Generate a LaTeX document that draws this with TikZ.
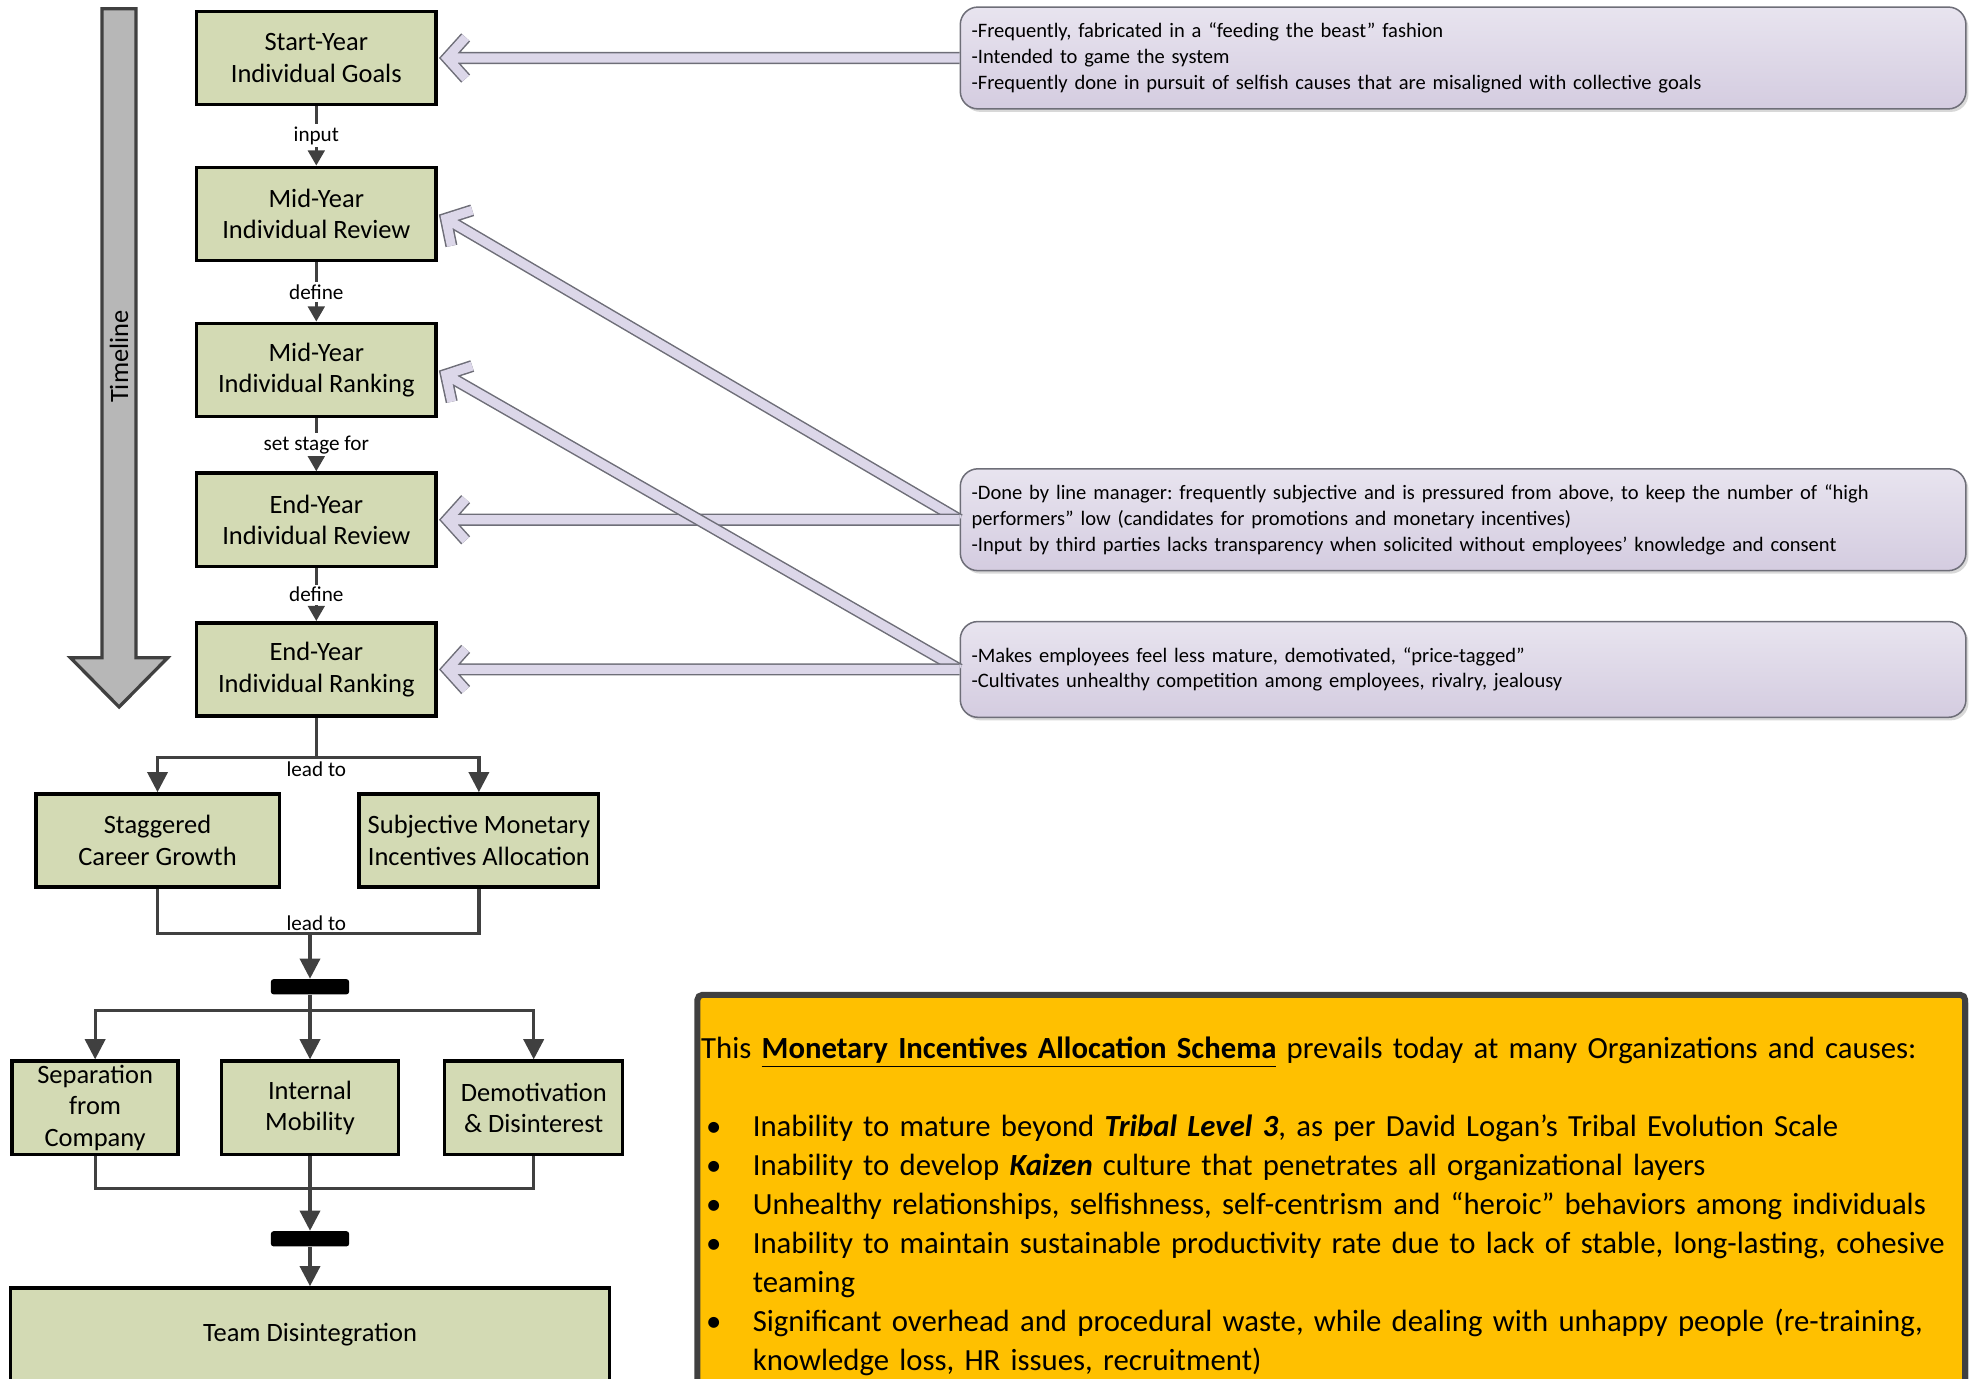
\documentclass[tikz,border=0pt]{standalone}
\usepackage{fontspec}
\setmainfont{Carlito}
\usepackage{tikz}
\usetikzlibrary{arrows.meta,positioning,calc,shadows}
\frenchspacing

\definecolor{stagegreen}{HTML}{D3DAB4}
\definecolor{linkgray}{HTML}{404040}
\definecolor{rimgray}{HTML}{6E6E78}
\definecolor{notetop}{HTML}{E8E4EF}
\definecolor{notebot}{HTML}{D4CCE0}
\definecolor{arrowlav}{HTML}{DCD7E9}
\definecolor{timegray}{HTML}{B7B7B7}
\definecolor{schemayellow}{HTML}{FFC000}

\begin{document}
\begin{tikzpicture}[
  x=0.5pt, y=-0.5pt,
  node distance=23.5pt,
  stage/.style={draw,line width=1.4pt,fill=stagegreen,align=center,
                minimum width=95pt,minimum height=37pt,inner sep=2pt,
                font=\fontsize{10.5}{12.5}\selectfont},
  bar/.style={fill=black,rounded corners=1pt,minimum width=31pt,
              minimum height=6pt,inner sep=0pt},
  lbl/.style={fill=white,inner sep=1pt,font=\fontsize{8.4}{10}\selectfont},
  link/.style={draw=linkgray,line width=1.3pt},
  conn/.style={link,-{Triangle[width=6.5pt,length=6pt]}},
  bigconn/.style={link,-{Triangle[width=8pt,length=8pt]}},
  note/.style={draw=rimgray,line width=0.6pt,rounded corners=7pt,
               top color=notetop,bottom color=notebot,text width=390pt,
               align=left,inner xsep=4.5pt,inner ysep=2pt,minimum height=40.4pt,
               font=\fontsize{8.15}{10.25}\selectfont,
               drop shadow={shadow xshift=1pt,shadow yshift=-1.2pt,
                            fill=black!30,opacity=0.5}},
  hollow/.style={draw=rimgray,line width=0.6pt,double=arrowlav,
                 double distance=3.6pt,line join=miter},
  timeline/.style={draw=linkgray,line width=1.3pt,fill=timegray,line join=miter},
  schema/.style={draw=linkgray,line width=2.4pt,fill=schemayellow,
                 rounded corners=2pt,text width=500pt,align=left,
                 inner xsep=1.5pt,inner ysep=16.5pt,
                 font=\fontsize{12.2}{15.5}\selectfont,
                 drop shadow={shadow xshift=1.5pt,shadow yshift=-1.5pt,
                              fill=black!25,opacity=0.5}}
]
\useasboundingbox (0,0) rectangle (1568,1094);

% timeline
\draw[timeline] (81,7) -- (108,7) -- (108,522) -- (133,522) -- (94.5,561)
  -- (56,522) -- (81,522) -- cycle;
\node[rotate=90,font=\fontsize{10.5}{12}\selectfont] (timelbl) at (94.5,283) {Timeline};

% yearly cycle
\node[stage] (goals) at (251,46) {Start-Year\\Individual Goals};
\node[stage, below=of goals] (midrev) {Mid-Year\\Individual Review};
\node[stage, below=of midrev] (midrank) {Mid-Year\\Individual Ranking};
\node[stage, below=21pt of midrank] (endrev) {End-Year\\Individual Review};
\node[stage, below=21pt of endrev] (endrank) {End-Year\\Individual Ranking};

\draw[conn] (goals) -- node[lbl] (lblinput) {input} (midrev);
\draw[conn] (midrev) -- node[lbl] (lbldefa) {define} (midrank);
\draw[conn] (midrank) -- node[lbl] (lblstage) {set stage for} (endrev);
\draw[conn] (endrev) -- node[lbl] (lbldefb) {define} (endrank);

% outcomes
\node[stage, minimum width=96.6pt, below=29.5pt of endrank, xshift=-63pt] (stag)
  {Staggered\\Career Growth};
\node[stage, below=29.5pt of endrank, xshift=64.5pt] (subj)
  {Subjective Monetary\\Incentives Allocation};

\coordinate (split) at (251,601);
\draw[link] (endrank) -- (split) node[lbl,below,fill=none] (lblleada) {lead to};
\draw[bigconn] (split) -| (stag);
\draw[bigconn] (split) -| (subj);

\coordinate (join) at (246,741);
\node[bar] (bar1) at (246,783) {};
\draw[link] (stag) |- (join) -| (subj);
\node[lbl,above,fill=none] (lblleadb) at (251,741) {lead to};
\draw[bigconn] (join) -- (bar1);

\node[stage, minimum width=65.8pt, inner ysep=0pt] (sep) at (75.5,879) {Separation\\from\\Company};
\node[stage, minimum width=70.4pt] (inmob) at (246,879) {Internal\\Mobility};
\node[stage, minimum width=70.6pt] (demot) at (423.5,879) {Demotivation\\\& Disinterest};

\coordinate (split2) at (246,802);
\draw[bigconn] (bar1) -- (inmob);
\draw[bigconn] (split2) -| (sep);
\draw[bigconn] (split2) -| (demot);

\coordinate (join2) at (246,943);
\node[bar] (bar2) at (246,983) {};
\draw[link] (sep) |- (join2) -| (demot);
\draw[bigconn] (inmob) -- (bar2);

\node[stage, minimum width=237.6pt] (team) at (246,1059) {Team Disintegration};
\draw[bigconn] (bar2) -- (team);

% remarks
\node[note, right=207pt of goals] (c1)
  {-Frequently, fabricated in a “feeding the beast” fashion\\
   -Intended to game the system\\
   -Frequently done in pursuit of selfish causes that are misaligned with collective goals};
\node[note, right=207pt of endrev] (c2)
  {-Done by line manager: frequently subjective and is pressured from above, to keep the number of “high\\
   performers” low (candidates for promotions and monetary incentives)\\
   -Input by third parties lacks transparency when solicited without employees’ knowledge and consent};
\node[note, minimum height=38pt, right=207pt of endrank] (c3)
  {-Makes employees feel less mature, demotivated, “price-tagged”\\
   -Cultivates unhealthy competition among employees, rivalry, jealousy};

\coordinate (tipa) at ($(goals.east)!3.7pt!(c1.west)$);
\coordinate (tipb) at ($(midrev.east)!3.7pt!(c2.west)$);
\coordinate (tipc) at ($(endrev.east)!3.7pt!(c2.west)$);
\coordinate (tipd) at ($(midrank.east)!3.7pt!(c3.west)$);
\coordinate (tipe) at ($(endrank.east)!3.7pt!(c3.west)$);

\draw[hollow] (c1.west) -- (tipa) ($(tipa)!11pt!48:(c1.west)$) -- (tipa) -- ($(tipa)!11pt!-48:(c1.west)$);
\draw[hollow] (c2.west) -- (tipb) ($(tipb)!11pt!48:(c2.west)$) -- (tipb) -- ($(tipb)!11pt!-48:(c2.west)$);
\draw[hollow] (c2.west) -- (tipc) ($(tipc)!11pt!48:(c2.west)$) -- (tipc) -- ($(tipc)!11pt!-48:(c2.west)$);
\draw[hollow] (c3.west) -- (tipd) ($(tipd)!11pt!48:(c3.west)$) -- (tipd) -- ($(tipd)!11pt!-48:(c3.west)$);
\draw[hollow] (c3.west) -- (tipe) ($(tipe)!11pt!48:(c3.west)$) -- (tipe) -- ($(tipe)!11pt!-48:(c3.west)$);

% summary
\node[schema, anchor=north west] (schema) at (551,787)
  {This \underline{\textbf{Monetary Incentives Allocation Schema}} prevails today at many Organizations and causes:\\[15.5pt]
   \makebox[20.5pt][l]{\hspace{2pt}\textbullet}Inability to mature beyond \textbf{\textit{Tribal Level 3}}, as per David Logan’s Tribal Evolution Scale\\
   \makebox[20.5pt][l]{\hspace{2pt}\textbullet}Inability to develop \textbf{\textit{Kaizen}} culture that penetrates all organizational layers\\
   \makebox[20.5pt][l]{\hspace{2pt}\textbullet}Unhealthy relationships, selfishness, self-centrism and “heroic” behaviors among individuals\\
   \makebox[20.5pt][l]{\hspace{2pt}\textbullet}Inability to maintain sustainable productivity rate due to lack of stable, long-lasting, cohesive\\
   \hspace*{20.5pt}teaming\\
   \makebox[20.5pt][l]{\hspace{2pt}\textbullet}Significant overhead and procedural waste, while dealing with unhappy people (re-training,\\
   \hspace*{20.5pt}knowledge loss, HR issues, recruitment)};
\end{tikzpicture}
\end{document}
